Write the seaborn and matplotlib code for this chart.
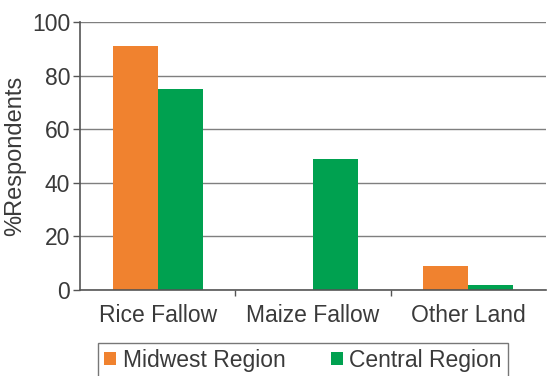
import matplotlib
matplotlib.use("Agg")
import matplotlib.pyplot as plt
import seaborn as sns
import pandas as pd

categories = ["Rice Fallow", "Maize Fallow", "Other Land"]
midwest = [91, 0, 9]
central = [75, 49, 2]
series_names = ["Midwest Region", "Central Region"]
colors = ["#F0822F", "#00A150"]

df = pd.DataFrame({
    "land": categories * 2,
    "value": midwest + central,
    "region": [series_names[0]] * 3 + [series_names[1]] * 3,
})

sns.set_theme(style="white")
plt.rcParams["font.family"] = ["Liberation Sans", "DejaVu Sans"]

fig = plt.figure(figsize=(5.48, 3.76), dpi=100)
ax = fig.add_axes([0.146, 0.229, 0.85, 0.712])

sns.barplot(data=df, x="land", y="value", hue="region", order=categories,
            hue_order=series_names, palette=colors, width=0.58,
            saturation=1, edgecolor="none", linewidth=0, ax=ax, legend=True)

ax.set_ylim(0, 100)
ax.set_xlim(-0.5, 2.5)
ax.set_yticks([0, 20, 40, 60, 80, 100])
ax.yaxis.grid(True, color="#7f7f7f", linewidth=1.0)
ax.set_axisbelow(True)
ax.tick_params(axis="y", direction="out", length=5, width=1, color="#555555",
               labelsize=16.5, labelcolor="#3a3a3a", pad=2, left=True)
ax.tick_params(axis="x", which="major", length=0, labelsize=16.5,
               labelcolor="#3a3a3a", pad=10)
ax.set_xticks([0.5, 1.5], minor=True)
ax.tick_params(axis="x", which="minor", direction="out", length=4, width=1,
               color="#555555", bottom=True)
ax.set_xlabel("")
ax.set_ylabel("%Respondents", fontsize=17, color="#3a3a3a", labelpad=4)

for side in ["top", "right"]:
    ax.spines[side].set_visible(False)
for side in ["left", "bottom"]:
    ax.spines[side].set_color("#555555")
    ax.spines[side].set_linewidth(1.2)

handles, labels = ax.get_legend_handles_labels()
ax.get_legend().remove()
leg = fig.legend(handles, labels, loc="lower center", bbox_to_anchor=(0.553, -0.035),
                 ncol=2, frameon=True, fancybox=False, fontsize=16.5,
                 handlelength=0.5, handleheight=0.5, handletextpad=0.3,
                 columnspacing=2.0, borderpad=0.25, borderaxespad=0.5,
                 labelcolor="#3a3a3a")
leg.get_frame().set_edgecolor("#555555")
leg.get_frame().set_linewidth(1.0)

fig.savefig("out.png", dpi=100)
